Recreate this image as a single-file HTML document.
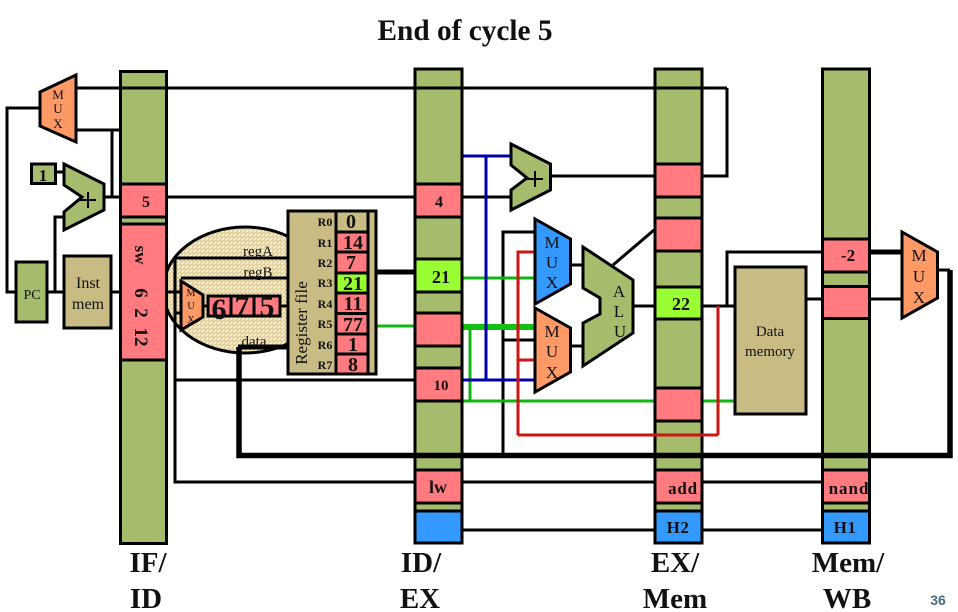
<!DOCTYPE html>
<html><head><meta charset="utf-8"><style>
html,body{margin:0;padding:0;background:#fff}
svg{display:block}
text{font-family:"Liberation Serif",serif;fill:#111}
.m{text-anchor:middle}
</style></head><body>
<svg width="958" height="612" viewBox="0 0 958 612" xmlns="http://www.w3.org/2000/svg">
<defs>
<pattern id="h" width="4" height="4" patternUnits="userSpaceOnUse">
<rect width="4" height="4" fill="#fbf0c8"/>
<path d="M0 4L4 0M-1 1L1 -1M3 5L5 3" stroke="#d4c28c" stroke-width="0.900"/>
<path d="M0 0L2 2" stroke="#d4c28c" stroke-width="0.900"/>
</pattern>
</defs>
<rect width="958" height="612" fill="#fff"/>

<!-- ellipse -->
<ellipse cx="245" cy="290" rx="82" ry="63" fill="url(#h)" stroke="#000" stroke-width="3"/>

<!-- wires beneath -->
<g fill="none" stroke="#000" stroke-width="3">
<path d="M40 108H7V292H15"/>
<path d="M76 130H120"/>
<path d="M112 130V197"/>
<path d="M104 197H120"/>
<path d="M56 172H64"/>
<path d="M63 217H55V292"/>
<path d="M48 292H63"/>
<path d="M112 292H120"/>
<path d="M168 197H414"/>
<path d="M168 292H181"/>
<path d="M175 313H181"/>
<path d="M287 258H175V482H414"/>
<path d="M175 380H414"/>
<path d="M287 278H181"/>
<path d="M203 306H208"/>
<path d="M281 306H287"/>
<path d="M463 197H511"/>
<path d="M550 176H654"/>
<path d="M703 176H727V88"/>
<path d="M535 232H503V455"/>
<path d="M535 340H503"/>
<path d="M571 265H583"/>
<path d="M571 346H583"/>
<path d="M633 306H654"/>
<path d="M613 265L654 230"/>
<path d="M703 306H734"/>
<path d="M821 252H727V306"/>
<path d="M807 299H901"/>
<path d="M463 482H654"/>
<path d="M703 482H821"/>
<path d="M463 530H654"/>
<path d="M703 530H821"/>
</g>
<path d="M377 272H414" stroke="#000" stroke-width="5"/>
<path d="M871 252H901" stroke="#000" stroke-width="5"/>
<path d="M287 347H238" stroke="#000" stroke-width="5"/>
<path d="M938 270H950" stroke="#000" stroke-width="3"/>

<!-- coloured wires -->
<g fill="none" stroke="#11b511" stroke-width="3">
<path d="M377 326H414"/>
<path d="M463 278H535"/>
<path d="M470 327V401"/>
<path d="M463 401H734"/>
</g>
<path d="M463 327H535" stroke="#11c011" stroke-width="6"/>
<g fill="none" stroke="#0000aa" stroke-width="3">
<path d="M463 156H511"/>
<path d="M486 156V380"/>
<path d="M463 380H535"/>
</g>
<g fill="none" stroke="#cc1515" stroke-width="3">
<path d="M535 252H518V435"/>
<path d="M535 360H518"/>
<path d="M718 306V435"/>
</g>

<!-- pipeline columns -->
<g stroke="#000" stroke-width="3" fill="#a4bc6c">
<rect x="120.500" y="71.500" width="46" height="472"/>
<rect x="415" y="69" width="47" height="474"/>
<rect x="655" y="69" width="47" height="474"/>
<rect x="822.500" y="69" width="47" height="474"/>
</g>
<g stroke="#000" stroke-width="3" fill="#ff7b80">
<rect x="120.500" y="184" width="46" height="33"/>
<rect x="120.500" y="224" width="46" height="136"/>
<rect x="415" y="184" width="47" height="33"/>
<rect x="415" y="313" width="47" height="33"/>
<rect x="415" y="368" width="47" height="33"/>
<rect x="415" y="470" width="47" height="33"/>
<rect x="655" y="164" width="47" height="33"/>
<rect x="655" y="218" width="47" height="33"/>
<rect x="655" y="388" width="47" height="33"/>
<rect x="655" y="470" width="47" height="33"/>
<rect x="822.500" y="239" width="47" height="33"/>
<rect x="822.500" y="286.500" width="47" height="32"/>
<rect x="822.500" y="470" width="47" height="33"/>
</g>
<g stroke="#000" stroke-width="3" fill="#99ff33">
<rect x="415" y="259" width="47" height="33"/>
<rect x="655" y="287" width="47" height="32"/>
</g>
<g stroke="#000" stroke-width="3" fill="#3399ff">
<rect x="415" y="511" width="47" height="32"/>
<rect x="655" y="511" width="47" height="32"/>
<rect x="822.500" y="511" width="47" height="32"/>
</g>

<!-- over-column wires -->
<path d="M76 88H727" fill="none" stroke="#000" stroke-width="3"/>
<path d="M518 435H718" fill="none" stroke="#cc1515" stroke-width="3"/>
<path d="M239 347V455.500H950V270" fill="none" stroke="#000" stroke-width="5.500"/>

<!-- left blocks -->
<g stroke="#000" stroke-width="3">
<rect x="31.500" y="164" width="24" height="19.500" fill="#a4bc6c"/>
<rect x="16" y="262" width="31" height="60" fill="#a4bc6c"/>
<rect x="64" y="256" width="47" height="72" fill="#c8bc84"/>
<rect x="735" y="267" width="71" height="147" fill="#c8bc84"/>
<polygon points="40,92 76,75 76,142 40,126" fill="#ff9966"/>
<polygon points="64,164 104,184 104,210 64,230 64,212 82,197 64,185" fill="#a4bc6c"/>
<polygon points="511,144 550.500,164 550.500,190 511,210 511,190 527,178 511,165" fill="#a4bc6c"/>
<polygon points="535,219 570.500,239 570.500,284 535,304" fill="#3399ff"/>
<polygon points="535,308 570.500,328 570.500,372 535,392" fill="#ff9966"/>
<polygon points="583,247 633,280 633,333 583,366 583,323 600,314 600,298 583,288" fill="#a4bc6c"/>
<polygon points="902,232 937.500,252 937.500,298 902,318" fill="#ff9966"/>
<polygon points="181,281 203,295 203,317 181,330" fill="#ff9966"/>
</g>
<path d="M80 200H96M88 192V208M527 179H543M535 171V187" stroke="#000" stroke-width="2" fill="none"/>

<!-- 675 -->
<g stroke="#000" stroke-width="3" fill="#ff7b80">
<rect x="208" y="296" width="72" height="20"/>
<path d="M231 296V316M254 296V316" fill="none"/>
</g>

<!-- register file -->
<rect x="288" y="211" width="88" height="163" fill="#c8bc84" stroke="#000" stroke-width="3"/>
<g stroke="#000" stroke-width="3">
<rect x="336" y="211" width="32" height="21" fill="#c8bc84"/>
<rect x="336" y="232" width="32" height="20" fill="#ff7b80"/>
<rect x="336" y="252" width="32" height="21" fill="#ff7b80"/>
<rect x="336" y="273" width="32" height="20" fill="#99ff33"/>
<rect x="336" y="293" width="32" height="20.500" fill="#ff7b80"/>
<rect x="336" y="313.500" width="32" height="20.500" fill="#ff7b80"/>
<rect x="336" y="334" width="32" height="20" fill="#ff7b80"/>
<rect x="336" y="354" width="32" height="20" fill="#ff7b80"/>
</g>
<g font-size="12" font-weight="bold">
<text x="325" y="226" class="m">R0</text>
<text x="325" y="247" class="m">R1</text>
<text x="325" y="267" class="m">R2</text>
<text x="325" y="287" class="m">R3</text>
<text x="325" y="308" class="m">R4</text>
<text x="325" y="328" class="m">R5</text>
<text x="325" y="349" class="m">R6</text>
<text x="325" y="369" class="m">R7</text>
</g>
<g font-size="20" font-weight="bold">
<text x="351" y="228" class="m">0</text>
<text x="353" y="249" class="m">14</text>
<text x="351" y="269" class="m">7</text>
<text x="353" y="290" class="m">21</text>
<text x="353" y="310" class="m">11</text>
<text x="353" y="331" class="m">77</text>
<text x="353" y="351" class="m">1</text>
<text x="353" y="371" class="m">8</text>
</g>
<text transform="translate(307,323) rotate(-90)" font-size="17" class="m">Register file</text>

<!-- circle text -->
<text x="258" y="256" font-size="15" class="m">regA</text>
<text x="258" y="277" font-size="15" class="m">regB</text>
<text x="254" y="346" font-size="15" class="m">data</text>
<g font-size="30" font-weight="bold">
<text x="219" y="319" class="m">6</text>
<text x="242" y="316" class="m">7</text>
<text x="267" y="316" class="m">5</text>
</g>
<g font-size="10">
<text x="191" y="296" class="m">M</text>
<text x="191" y="309" class="m">U</text>
<text x="191" y="323" class="m">X</text>
</g>

<!-- mux labels -->
<g font-size="13">
<text x="58" y="99" class="m">M</text>
<text x="58" y="113" class="m">U</text>
<text x="58" y="128" class="m">X</text>
</g>
<g font-size="17">
<text x="552" y="248" class="m">M</text>
<text x="552" y="268" class="m">U</text>
<text x="552" y="288" class="m">X</text>
<text x="552" y="337" class="m">M</text>
<text x="552" y="357" class="m">U</text>
<text x="552" y="378" class="m">X</text>
<text x="919" y="261" class="m">M</text>
<text x="919" y="282" class="m">U</text>
<text x="919" y="303" class="m">X</text>
<text x="619" y="297" class="m">A</text>
<text x="619" y="317" class="m">L</text>
<text x="620" y="337" class="m">U</text>
</g>

<!-- block labels -->
<text x="43" y="181" font-size="17" font-weight="bold" class="m">1</text>
<text x="32" y="299" font-size="14" class="m">PC</text>
<text x="88" y="288" font-size="16" class="m">Inst</text>
<text x="88" y="309" font-size="16" class="m">mem</text>
<text x="770" y="336" font-size="15" class="m">Data</text>
<text x="770" y="356" font-size="15" class="m">memory</text>

<!-- register contents -->
<text x="146" y="207" font-size="16" font-weight="bold" class="m">5</text>
<text transform="translate(135,255) rotate(90)" font-size="17" font-weight="bold" class="m">sw</text>
<text transform="translate(135,293) rotate(90)" font-size="19" font-weight="bold" class="m">6</text>
<text transform="translate(135,313) rotate(90)" font-size="19" font-weight="bold" class="m">2</text>
<text transform="translate(135,337) rotate(90)" font-size="19" font-weight="bold" class="m">12</text>
<text x="439" y="207" font-size="16" font-weight="bold" class="m">4</text>
<text x="441" y="283" font-size="18" font-weight="bold" class="m">21</text>
<text x="441" y="390" font-size="15" font-weight="bold" class="m">10</text>
<text x="438" y="493" font-size="18" font-weight="bold" class="m">lw</text>
<text x="681" y="310" font-size="18" font-weight="bold" class="m">22</text>
<text x="683" y="494" font-size="17" font-weight="bold" letter-spacing="0.800" class="m">add</text>
<text x="849" y="494" font-size="17" font-weight="bold" letter-spacing="1" class="m">nand</text>
<text x="678" y="533" font-size="17" font-weight="bold" letter-spacing="0.500" class="m">H2</text>
<text x="845" y="533" font-size="17" font-weight="bold" letter-spacing="0.500" class="m">H1</text>
<text x="848" y="261" font-size="17" font-weight="bold" class="m">-2</text>

<!-- titles -->
<text x="465" y="40" font-size="29.300" font-weight="bold" class="m">End of cycle 5</text>
<g font-size="29" font-weight="bold">
<text x="148" y="572" class="m">IF/</text>
<text x="146" y="608" class="m">ID</text>
<text x="421" y="572" class="m">ID/</text>
<text x="420" y="608" class="m">EX</text>
<text x="675" y="572" class="m">EX/</text>
<text x="675" y="608" class="m">Mem</text>
<text x="848" y="572" class="m">Mem/</text>
<text x="847" y="608" class="m">WB</text>
</g>
<text x="938" y="605" font-size="14" font-weight="bold" class="m" style="font-family:'Liberation Sans',sans-serif;fill:#4a6a82">36</text>
</svg>
</body></html>
